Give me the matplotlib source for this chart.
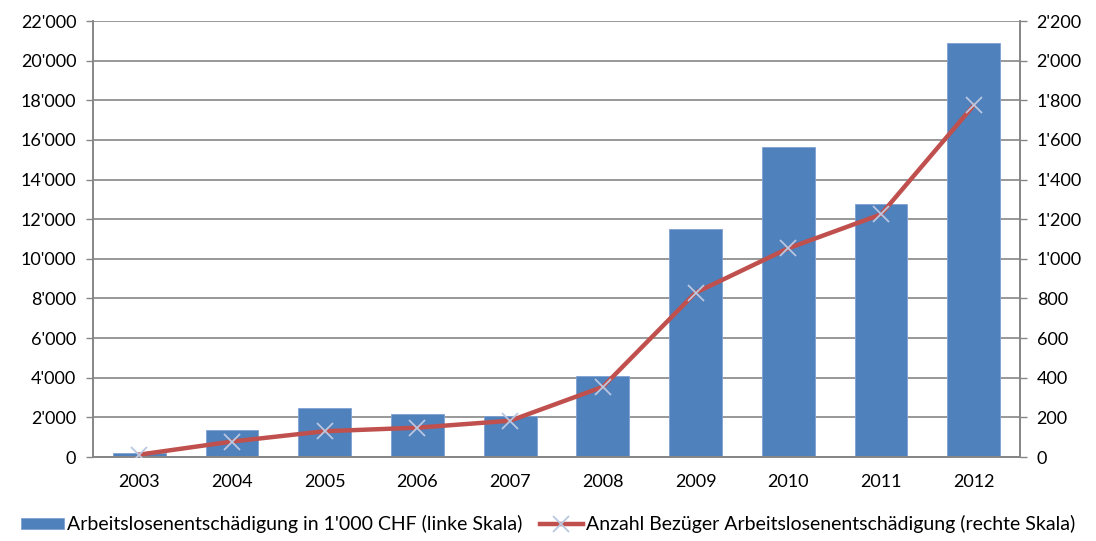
import numpy as np
import matplotlib.pyplot as plt
from matplotlib.ticker import FuncFormatter

plt.rcParams['font.family'] = ['Lato', 'DejaVu Sans']

# Data
years = ['2003', '2004', '2005', '2006', '2007', '2008', '2009', '2010', '2011', '2012']
entschaedigung = [200, 1340, 2460, 2150, 2070, 4090, 11480, 15640, 12790, 20880]  # in 1'000 CHF
bezueger = [12, 78, 130, 148, 183, 354, 829, 1053, 1224, 1774]

BAR_COLOR = '#4F81BD'
LINE_COLOR = '#C0504D'
MARKER_COLOR = '#B9C7E0'
GRID_COLOR = '#868686'


def swiss(v, pos):
    # thousands separator with apostrophe
    return f"{int(v):,}".replace(',', "'")


fig = plt.figure(figsize=(10.96, 5.41), dpi=100)
ax = fig.add_axes([93 / 1096, 1 - 457 / 541, (1020 - 93) / 1096, (457 - 21) / 541])
ax2 = ax.twinx()

x = np.arange(len(years))
bars = ax.bar(x, entschaedigung, width=0.57, color=BAR_COLOR, edgecolor='#7FA2D3',
              linewidth=0.6, zorder=2,
              label="Arbeitslosenentschädigung in 1'000 CHF (linke Skala)")
line, = ax2.plot(x, bezueger, color=LINE_COLOR, lw=3.2, marker='x', markersize=11,
                 markeredgecolor=MARKER_COLOR, markeredgewidth=1.3, zorder=3,
                 label='Anzahl Bezüger Arbeitslosenentschädigung (rechte Skala)')

ax.set_xlim(-0.5, len(years) - 0.5)
ax.set_ylim(0, 22000)
ax2.set_ylim(0, 2200)
ax.set_yticks(np.arange(0, 22001, 2000))
ax2.set_yticks(np.arange(0, 2201, 200))
ax.yaxis.set_major_formatter(FuncFormatter(swiss))
ax2.yaxis.set_major_formatter(FuncFormatter(swiss))
ax.set_xticks(x)
ax.set_xticklabels(years)

ax.grid(axis='y', color=GRID_COLOR, lw=1.2, zorder=0)
ax.set_axisbelow(True)
for a in (ax, ax2):
    a.spines['top'].set_visible(False)
    for side in ('left', 'right', 'bottom'):
        a.spines[side].set_color(GRID_COLOR)
        a.spines[side].set_linewidth(1.2)
    a.tick_params(axis='y', colors=GRID_COLOR, length=5, width=1, labelcolor='black',
                  labelsize=13, pad=7)
ax.tick_params(axis='x', length=0, labelsize=13, pad=12)

ax2.set_zorder(ax.get_zorder() + 1)
ax2.patch.set_visible(False)

fig.legend(handles=[bars, line], loc='center', bbox_to_anchor=(0.5, 1 - 524 / 541),
           ncol=2, frameon=False, fontsize=14, handlelength=2.2, handleheight=0.5,
           handletextpad=0.15, columnspacing=0.9, borderaxespad=0)

fig.savefig('out.png', dpi=100)
